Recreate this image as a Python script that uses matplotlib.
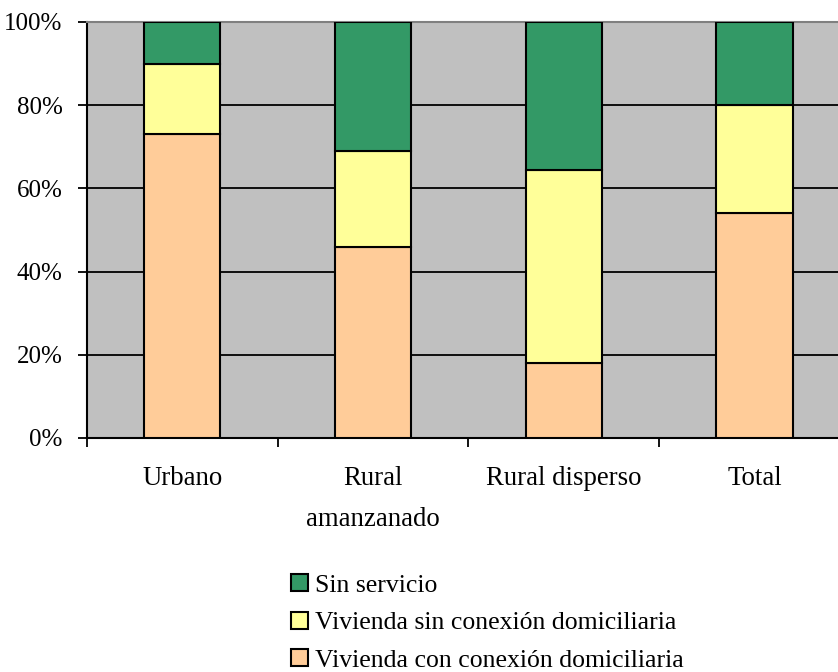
import matplotlib.pyplot as plt
from matplotlib.patches import Patch
import numpy as np

plt.rcParams['font.family'] = ['Liberation Serif', 'DejaVu Serif']

categories = ['Urbano', 'Rural\namanzanado', 'Rural disperso', 'Total']
con_conexion = [73, 46, 18, 54]
sin_conexion = [17, 23, 46.5, 26]
sin_servicio = [10, 31, 35.5, 20]

series = ['Vivienda con conexión domiciliaria',
          'Vivienda sin conexión domiciliaria',
          'Sin servicio']
colors = ['#FFCC99', '#FFFF99', '#339966']

fig = plt.figure(figsize=(8.38, 6.72), dpi=100)
ax = fig.add_axes([87 / 838, 1 - 438 / 672, 1 - 87 / 838, 416 / 672])
ax.set_facecolor('#C0C0C0')

x = np.arange(len(categories))
bottom = np.zeros(len(categories))
for vals, col in zip([con_conexion, sin_conexion, sin_servicio], colors):
    ax.bar(x, vals, width=0.4, bottom=bottom, color=col,
           edgecolor='black', linewidth=1.5, zorder=3)
    bottom += np.array(vals)

ax.set_xlim(-0.5, -0.5 + (838 - 87) / 190.7)
ax.set_ylim(0, 100)

# horizontal gridlines
for yv in [20, 40, 60, 80]:
    ax.axhline(yv, color='black', linewidth=1.3, zorder=1)

ax.set_yticks([0, 20, 40, 60, 80, 100])
ax.set_yticklabels(['0%', '20%', '40%', '60%', '80%', '100%'])
ax.tick_params(axis='y', length=6.5, width=1.3, pad=11, labelsize=18)

# ticks at category boundaries, labels at centers
ax.set_xticks(np.arange(len(categories)) - 0.5)
ax.set_xticklabels([])
ax.tick_params(axis='x', which='major', length=6.5, width=1.3)
ax.set_xticks(x, minor=True)
ax.set_xticklabels(categories, minor=True, fontsize=19.3, linespacing=1.86)
ax.tick_params(axis='x', which='minor', length=0, pad=20)

ax.spines['right'].set_visible(False)
ax.spines['top'].set_color('#808080')
ax.spines['top'].set_linewidth(1.5)
ax.spines['left'].set_linewidth(1.5)
ax.spines['bottom'].set_linewidth(1.5)

handles = [Patch(facecolor=c, edgecolor='black', linewidth=1.5) for c in colors]
fig.legend(handles[::-1], series[::-1], loc='upper left',
           bbox_to_anchor=(291 / 838, 1 - 574 / 672), frameon=False,
           fontsize=18.5, handlelength=0.65, handleheight=0.65,
           handletextpad=0.3, labelspacing=0.58, borderpad=0,
           borderaxespad=0)

fig.savefig('out.png', dpi=100)
